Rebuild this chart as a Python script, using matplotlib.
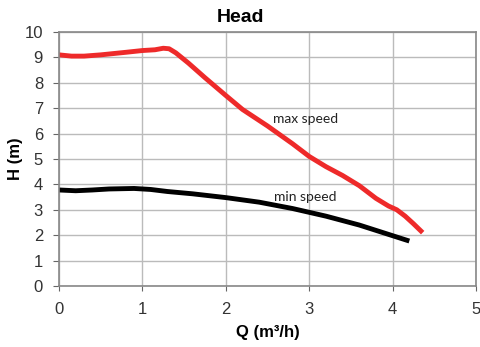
import numpy as np
import matplotlib.pyplot as plt

# curves
q_max = [0.0, 0.15, 0.3, 0.5, 0.8, 1.0, 1.15, 1.25, 1.32, 1.4, 1.55, 1.75, 2.0, 2.2, 2.5, 2.8, 3.0, 3.2, 3.4, 3.6, 3.8, 3.95, 4.05, 4.15, 4.25, 4.36]
h_max = [9.1, 9.05, 9.05, 9.1, 9.2, 9.27, 9.3, 9.36, 9.34, 9.18, 8.78, 8.2, 7.5, 6.95, 6.3, 5.6, 5.1, 4.7, 4.35, 3.95, 3.45, 3.15, 3.0, 2.75, 2.45, 2.1]

q_min = [0.0, 0.2, 0.4, 0.6, 0.9, 1.1, 1.3, 1.6, 2.0, 2.4, 2.8, 3.2, 3.6, 4.0, 4.2]
h_min = [3.78, 3.75, 3.78, 3.82, 3.84, 3.8, 3.72, 3.63, 3.48, 3.3, 3.05, 2.75, 2.4, 1.98, 1.77]

xticks = [0, 1, 2, 3, 4, 5]
yticks = list(range(0, 11))

plt.rcParams['font.family'] = 'Liberation Sans'

fig = plt.figure(figsize=(4.81, 3.47), dpi=100)
ax = fig.add_axes([0.1227, 0.1758, 0.867, 0.732])

ax.plot(q_max, h_max, color='#ee2a2a', lw=3.5, solid_capstyle='butt')
ax.plot(q_min, h_min, color='black', lw=3.5, solid_capstyle='butt')

ax.text(2.95, 6.57, 'max speed', fontsize=10, ha='center', va='center', family='Lato', color='#222222')
ax.text(2.95, 3.5, 'min speed', fontsize=10, ha='center', va='center', family='Lato', color='#222222')

ax.set_xlim(0, 5)
ax.set_ylim(0, 10)
ax.set_xticks(xticks)
ax.set_yticks(yticks)
ax.tick_params(axis='y', length=4.5, pad=7)
ax.tick_params(axis='x', length=3.5, pad=8)
ax.tick_params(labelsize=12, colors='#666666', labelcolor='#333333')
ax.grid(True, color='#bbbbbb', lw=1)
for s in ax.spines.values():
    s.set_color('#888888')
    s.set_linewidth(1.2)

fig.text(0.499, 1 - 22 / 347, 'Head', fontsize=14, fontweight='bold', ha='center', va='baseline')
ax.set_xlabel('Q (m³/h)', fontsize=12, fontweight='bold', labelpad=6)
ax.set_ylabel('H (m)', fontsize=12, fontweight='bold', labelpad=1)

fig.savefig('out.png', dpi=100)
